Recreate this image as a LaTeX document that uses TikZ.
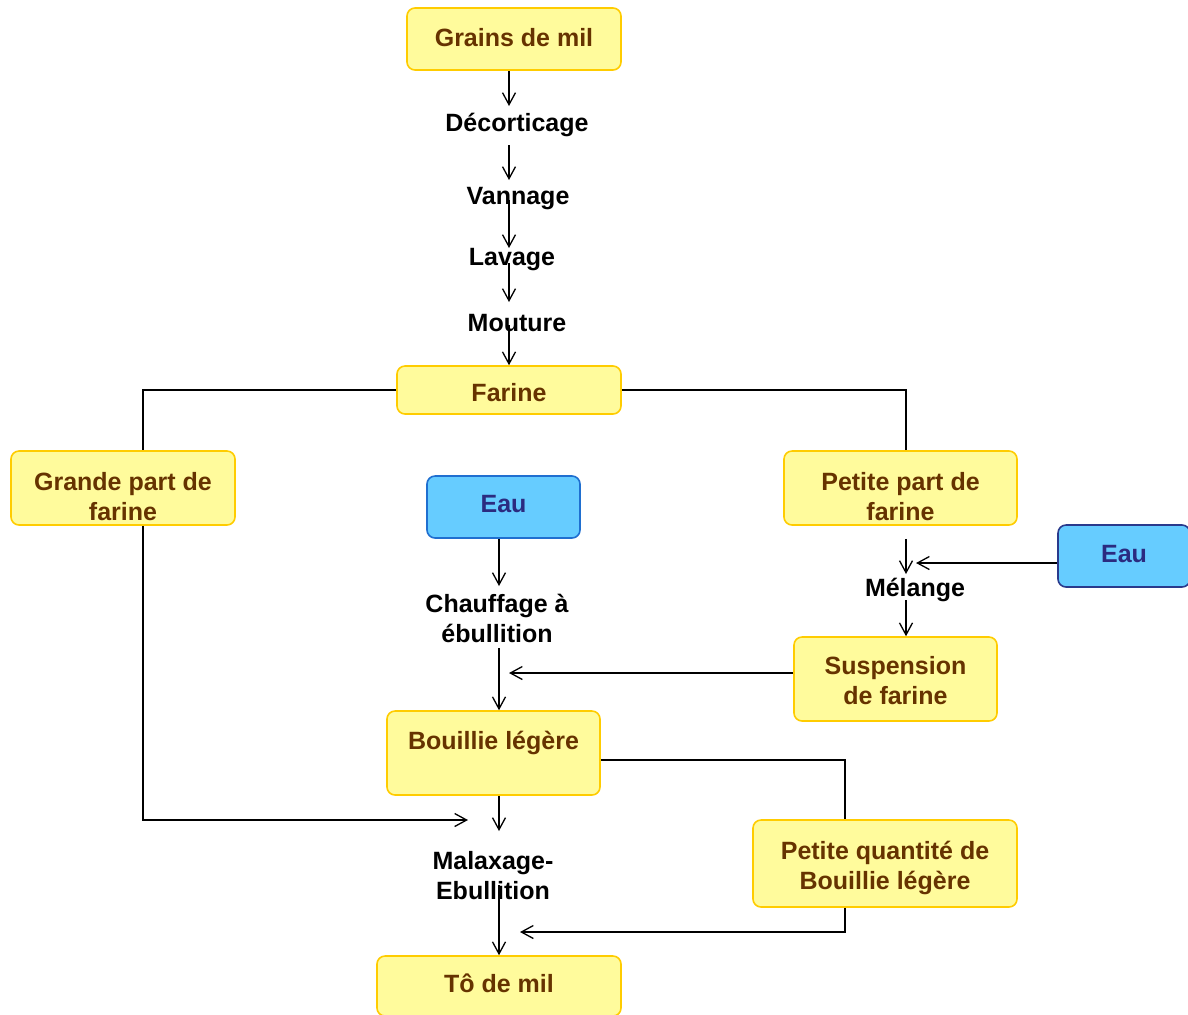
\documentclass[tikz,border=0pt]{standalone}
\usepackage{fontspec}
\setmainfont{Liberation Sans}
\usetikzlibrary{arrows.meta,calc}
\definecolor{boxfill}{HTML}{FFFB9C}
\definecolor{boxedge}{HTML}{FFCC00}
\definecolor{boxtext}{HTML}{663300}
\definecolor{eaufill}{HTML}{66CCFF}
\definecolor{eauedge}{HTML}{1F6FD0}
\definecolor{eauedgeb}{HTML}{2A3A8C}
\definecolor{eautext}{HTML}{2B2B80}
% text block moved vertically inside its box, keeping its measured size
\newcommand{\shifttext}[2]{\raisebox{#1}[\height][\depth]{\begin{tabular}{@{}c@{}}#2\end{tabular}}}
\begin{document}
\begin{tikzpicture}[x=0.5pt,y=-0.5pt,
  every node/.style={font=\fontsize{12.5}{15}\selectfont\bfseries, align=center, inner sep=0pt},
  box/.style={draw=boxedge, fill=boxfill, rounded corners=4pt, line width=0.8pt, text=boxtext},
  eaubox/.style={draw=eauedge, fill=eaufill, rounded corners=4pt, line width=0.8pt, text=eautext},
  lbl/.style={text=black},
  ln/.style={draw=black, line width=0.65pt},
  arr/.style={ln, -{Straight Barb[length=6pt,width=6.5pt,line width=0.65pt]}}]
\useasboundingbox (0,0) rectangle (1188,1014);

% columns of the vertical connectors
\coordinate (c1) at (509,0);
\coordinate (c2) at (499,0);
\coordinate (cL) at (143,0);
\coordinate (cR) at (906,0);
\coordinate (c3) at (845,0);

% boxes
\node[box, minimum width=107pt, minimum height=31pt] (grains) at (514,39) {\shifttext{-0.5pt}{Grains de mil}};
\node[box, minimum width=112pt, minimum height=24pt] (farine) at (509,390) {\shifttext{-2.5pt}{Farine}};
\node[box, minimum width=112pt, minimum height=37pt] (grande) at (123,488) {\shifttext{-5.5pt}{Grande part de\\farine}};
\node[box, minimum width=116.5pt, minimum height=37pt] (petite) at (900.5,488) {\shifttext{-5.5pt}{Petite part de\\farine}};
\node[eaubox, minimum width=76.5pt, minimum height=31pt] (eau1) at (503.5,507) {\shifttext{0.5pt}{Eau}};
\node[eaubox, draw=eauedgeb, minimum width=66pt, minimum height=31pt] (eau2) at (1124,556) {\shifttext{0pt}{Eau}};
\node[box, minimum width=101.5pt, minimum height=42pt] (susp) at (895.5,679) {\shifttext{-2pt}{Suspension\\de farine}};
\node[box, minimum width=106.5pt, minimum height=42pt] (bouil) at (493.5,753) {\shifttext{-2.5pt}{Bouillie légère\\\mbox{}}};
\node[box, minimum width=132pt, minimum height=43.5pt] (petq) at (885,863.5) {\shifttext{-2.5pt}{Petite quantité de\\Bouillie légère}};
\node[box, minimum width=122pt, minimum height=30pt] (to) at (499,986) {\shifttext{0pt}{Tô de mil}};

% step labels
\node[lbl] (decort) at (517,125) {Décorticage};
\node[lbl] (vann) at (518,199) {Vannage};
\node[lbl] (lav) at (512,260) {Lavage};
\node[lbl] (mout) at (517,323) {Mouture};
\node[lbl] (chauff) at (497,618) {Chauffage à\\ébullition};
\node[lbl] (mel) at (915,590) {Mélange};
\node[lbl] (malax) at (493,876) {Malaxage-\\Ebullition};

% free ends of side arrows
\coordinate (j1) at (509,673);
\coordinate (j2) at (916,563);
\coordinate (j3) at (520,932);
\coordinate (j4) at (468,820);

% main line
\draw[arr] (grains.south -| c1) -- ($(decort -| c1)+(0,-19)$);
\draw[arr] ($(decort -| c1)+(0,20)$) -- ($(vann -| c1)+(0,-19)$);
\draw[arr] ($(vann -| c1)+(0,1)$) -- ($(lav -| c1)+(0,-12)$);
\draw[arr] ($(lav -| c1)+(0,3)$) -- ($(mout -| c1)+(0,-21)$);
\draw[arr] ($(mout -| c1)+(0,2)$) -- (farine.north -| c1);

% split of the flour
\draw[ln] (farine.west) -| (grande.north -| cL);
\draw[ln] (farine.east) -| (petite.north -| cR);

% water heated to boiling
\draw[arr] (eau1.south -| c2) -- ($(chauff -| c2)+(0,-32)$);
\draw[arr] ($(chauff -| c2)+(0,30)$) -- (bouil.north -| c2);

% flour suspension
\draw[arr] ($(petite.south -| cR)+(0,13)$) -- ($(mel -| cR)+(0,-16)$);
\draw[arr] ($(eau2.west)+(0,7)$) -- (j2);
\draw[arr] ($(mel -| cR)+(0,10)$) -- (susp.north -| cR);
\draw[arr] ($(susp.west)+(0,-6)$) -- (j1);

% final kneading
\draw[ln] ($(bouil.east)+(0,7)$) -| (petq.north -| c3);
\draw[arr] (petq.south -| c3) |- (j3);
\draw[arr] (grande.south -| cL) |- (j4);
\draw[arr] (bouil.south -| c2) -- ($(malax -| c2)+(0,-45)$);
\draw[arr] ($(malax -| c2)+(0,9)$) -- (to.north -| c2);
\end{tikzpicture}
\end{document}
